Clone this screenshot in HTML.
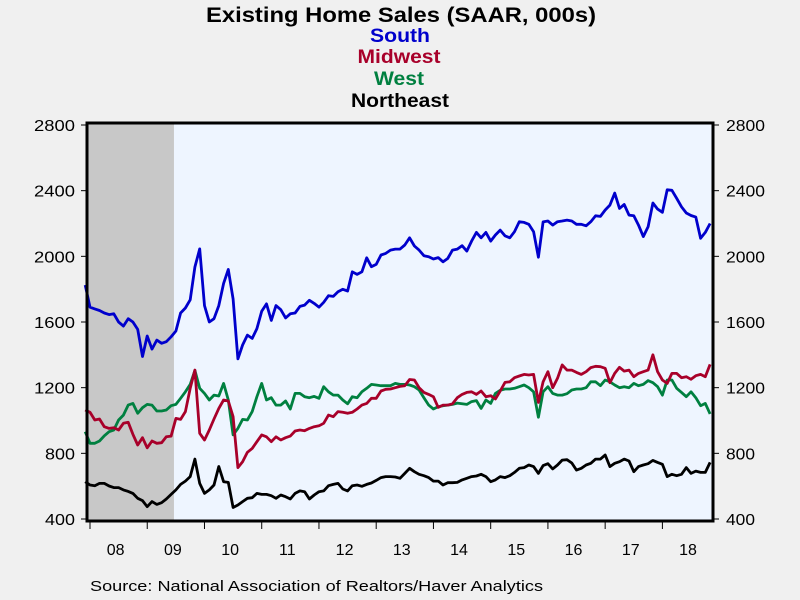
<!DOCTYPE html>
<html><head><meta charset="utf-8"><style>
html,body{margin:0;padding:0;background:#f0f0f0;}
svg{display:block;font-family:"Liberation Sans",Arial,sans-serif;}
</style></head><body>
<svg id="chart" width="800" height="600" viewBox="0 0 800 600">
<rect x="0" y="0" width="800" height="600" fill="#f0f0f0"/>
<text x="401" y="22" text-anchor="middle" font-size="21" font-weight="bold" textLength="390" lengthAdjust="spacingAndGlyphs" fill="#000">Existing Home Sales (SAAR, 000s)</text>
<text x="400" y="42" text-anchor="middle" font-size="19" font-weight="bold" textLength="60" lengthAdjust="spacingAndGlyphs" fill="#0000cc">South</text>
<text x="399" y="63" text-anchor="middle" font-size="19" font-weight="bold" textLength="83" lengthAdjust="spacingAndGlyphs" fill="#a8002a">Midwest</text>
<text x="399" y="85" text-anchor="middle" font-size="19" font-weight="bold" textLength="50" lengthAdjust="spacingAndGlyphs" fill="#008040">West</text>
<text x="400" y="107" text-anchor="middle" font-size="19" font-weight="bold" textLength="98" lengthAdjust="spacingAndGlyphs" fill="#000">Northeast</text>
<g id="plot"></g>
<text x="90" y="591" font-size="15" textLength="453" lengthAdjust="spacingAndGlyphs" fill="#000">Source:  National Association of Realtors/Haver Analytics</text>
</svg>
<script>
const yTicks = [400, 800, 1200, 1600, 2000, 2400, 2800];
const xYearLabels = ["08","09","10","11","12","13","14","15","16","17","18"];
const recession = [-1, 17.6];
// monthly, Dec 2007 .. Nov 2018
const south = [1825,1690,1680,1670,1655,1645,1650,1600,1575,1620,1600,1555,1390,1515,1435,1490,1470,1480,1510,1545,1655,1685,1735,1935,2045,1700,1600,1620,1700,1835,1920,1740,1375,1460,1520,1500,1560,1665,1710,1610,1700,1675,1625,1650,1655,1695,
1703,1732,1713,1690,1720,1760,1756,1784,1799,1789,1906,1890,1906,1991,1937,1951,2008,2018,2038,2044,2044,2069,2113,2063,2038,2004,1998,1984,1992,1967,1987,2038,2044,2065,2032,2093,2146,2113,2146,2093,2130,2160,2125,2113,
2150,2211,2207,2195,2150,1995,2210,2215,2190,2211,2215,2221,2215,2195,2195,2186,2211,2247,2243,2282,2312,2385,2292,2316,2251,2247,2190,2120,2180,2325,2288,2268,2405,2402,2353,2302,2264,2249,2239,2110,2146,2200];
const midwest = [1064,1050,1003,1009,962,952,956,942,983,989,916,851,895,834,875,861,865,901,905,1013,1007,1054,1196,1307,922,881,942,1009,1074,1125,1119,1023,713,749,806,830,871,912,901,871,901,881,895,905,936,942,
938,952,962,968,983,1033,1023,1054,1050,1044,1050,1070,1094,1104,1135,1135,1180,1190,1192,1200,1208,1212,1250,1247,1200,1171,1159,1145,1080,1094,1094,1102,1139,1159,1171,1175,1159,1180,1145,1151,1131,1180,1232,1236,
1261,1271,1281,1277,1281,1110,1236,1297,1200,1257,1338,1307,1307,1293,1281,1297,1322,1330,1328,1318,1230,1287,1324,1301,1307,1267,1287,1297,1307,1400,1297,1247,1226,1287,1287,1261,1267,1251,1273,1281,1267,1342];
const west = [932,861,861,875,907,932,942,1003,1033,1094,1104,1044,1078,1098,1094,1058,1058,1064,1090,1098,1135,1175,1220,1305,1196,1165,1125,1155,1149,1226,1125,912,952,1007,1003,1054,1145,1226,1125,1139,1094,1094,1119,1070,1165,1165,
1145,1139,1147,1135,1206,1175,1155,1155,1125,1102,1145,1139,1175,1196,1220,1216,1212,1212,1212,1226,1220,1220,1216,1206,1186,1139,1094,1070,1084,1090,1094,1098,1106,1102,1098,1115,1121,1074,1125,1104,1165,1184,1192,1192,
1196,1206,1216,1200,1175,1020,1175,1206,1165,1155,1155,1163,1186,1192,1192,1200,1236,1236,1212,1247,1236,1216,1200,1206,1200,1226,1212,1220,1243,1230,1206,1155,1247,1247,1196,1171,1145,1175,1139,1090,1104,1040];
const northeast = [627,607,603,617,617,601,591,591,577,568,556,526,512,475,506,489,499,522,550,577,611,631,658,765,617,556,577,607,720,627,623,470,485,506,526,530,556,550,550,542,526,546,536,522,556,571,
566,522,546,566,571,603,611,617,583,571,603,607,599,611,619,635,652,658,658,656,648,678,709,688,672,664,652,631,631,607,621,621,623,638,648,658,662,672,658,627,638,658,652,664,
684,709,713,729,719,678,725,737,705,729,759,761,741,698,709,729,739,765,765,790,719,739,749,765,753,688,719,729,737,757,745,733,658,672,664,672,713,678,692,684,684,745];

const NS = "http://www.w3.org/2000/svg";
const L = 87, R = 713, T = 123, B = 521;
function xPos(i){ return 90 + 4.77 * (i - 1); } // i = array index, 0 = Dec 2007
function xMonth(m){ return 90 + 4.77 * m; }    // m months since Jan 2008
function yPos(v){ return 519 - (v - 400) * (394 / 2400); }
const plot = document.getElementById("plot");
function mk(tag, attrs){ const e = document.createElementNS(NS, tag); for (const k in attrs) e.setAttribute(k, attrs[k]); plot.appendChild(e); return e; }

const bg = mk("rect", {x:L, y:T, width:R-L, height:B-T, fill:"#eef5ff"});


const rx0 = Math.max(L, xMonth(recession[0])), rx1 = xMonth(recession[1]);
const rec = mk("rect", {x:rx0, y:T, width:rx1-rx0, height:B-T, fill:"#c8c8c8"});



[[west,"#008040","west-line"],[midwest,"#a8002a","midwest-line"],[northeast,"#000000","northeast-line"],[south,"#0000cc","south-line"]].forEach(s => {
  const pts = s[0].map((v,i) => xPos(i).toFixed(1) + "," + yPos(v).toFixed(1)).join(" ");
  const pl = mk("polyline", {points:pts, fill:"none", stroke:s[1], "stroke-width":2.8, "stroke-linejoin":"round"});
  
  
});

const frame = mk("rect", {x:L, y:T, width:R-L, height:B-T, fill:"none", stroke:"#000", "stroke-width":3});



yTicks.forEach(v => {
  const y = yPos(v);
  const t1 = mk("line", {x1:L-6, x2:L, y1:y, y2:y, stroke:"#000", "stroke-width":1});
  
  
  const t2 = mk("line", {x1:R, x2:R+6, y1:y, y2:y, stroke:"#000", "stroke-width":1});
  
  
  const a = mk("text", {x:75, y:y+6, "text-anchor":"end", "font-size":16, textLength:v>=1000?41:30, lengthAdjust:"spacingAndGlyphs"});
  a.textContent = v;
  
  
  const b = mk("text", {x:726, y:y+6, "font-size":16, textLength:v>=1000?39:29, lengthAdjust:"spacingAndGlyphs"});
  b.textContent = v;
  
  
});

xYearLabels.forEach((lab, k) => {
  const x0 = xMonth(12*k);
  const tk = mk("line", {x1:x0, x2:x0, y1:B, y2:B+8, stroke:"#000", "stroke-width":1});
  
  
  const t = mk("text", {x:x0 + 4.77*6 - 3, y:555, "text-anchor":"middle", "font-size":16});
  t.textContent = lab;
  
  
});
</script>
</body></html>
